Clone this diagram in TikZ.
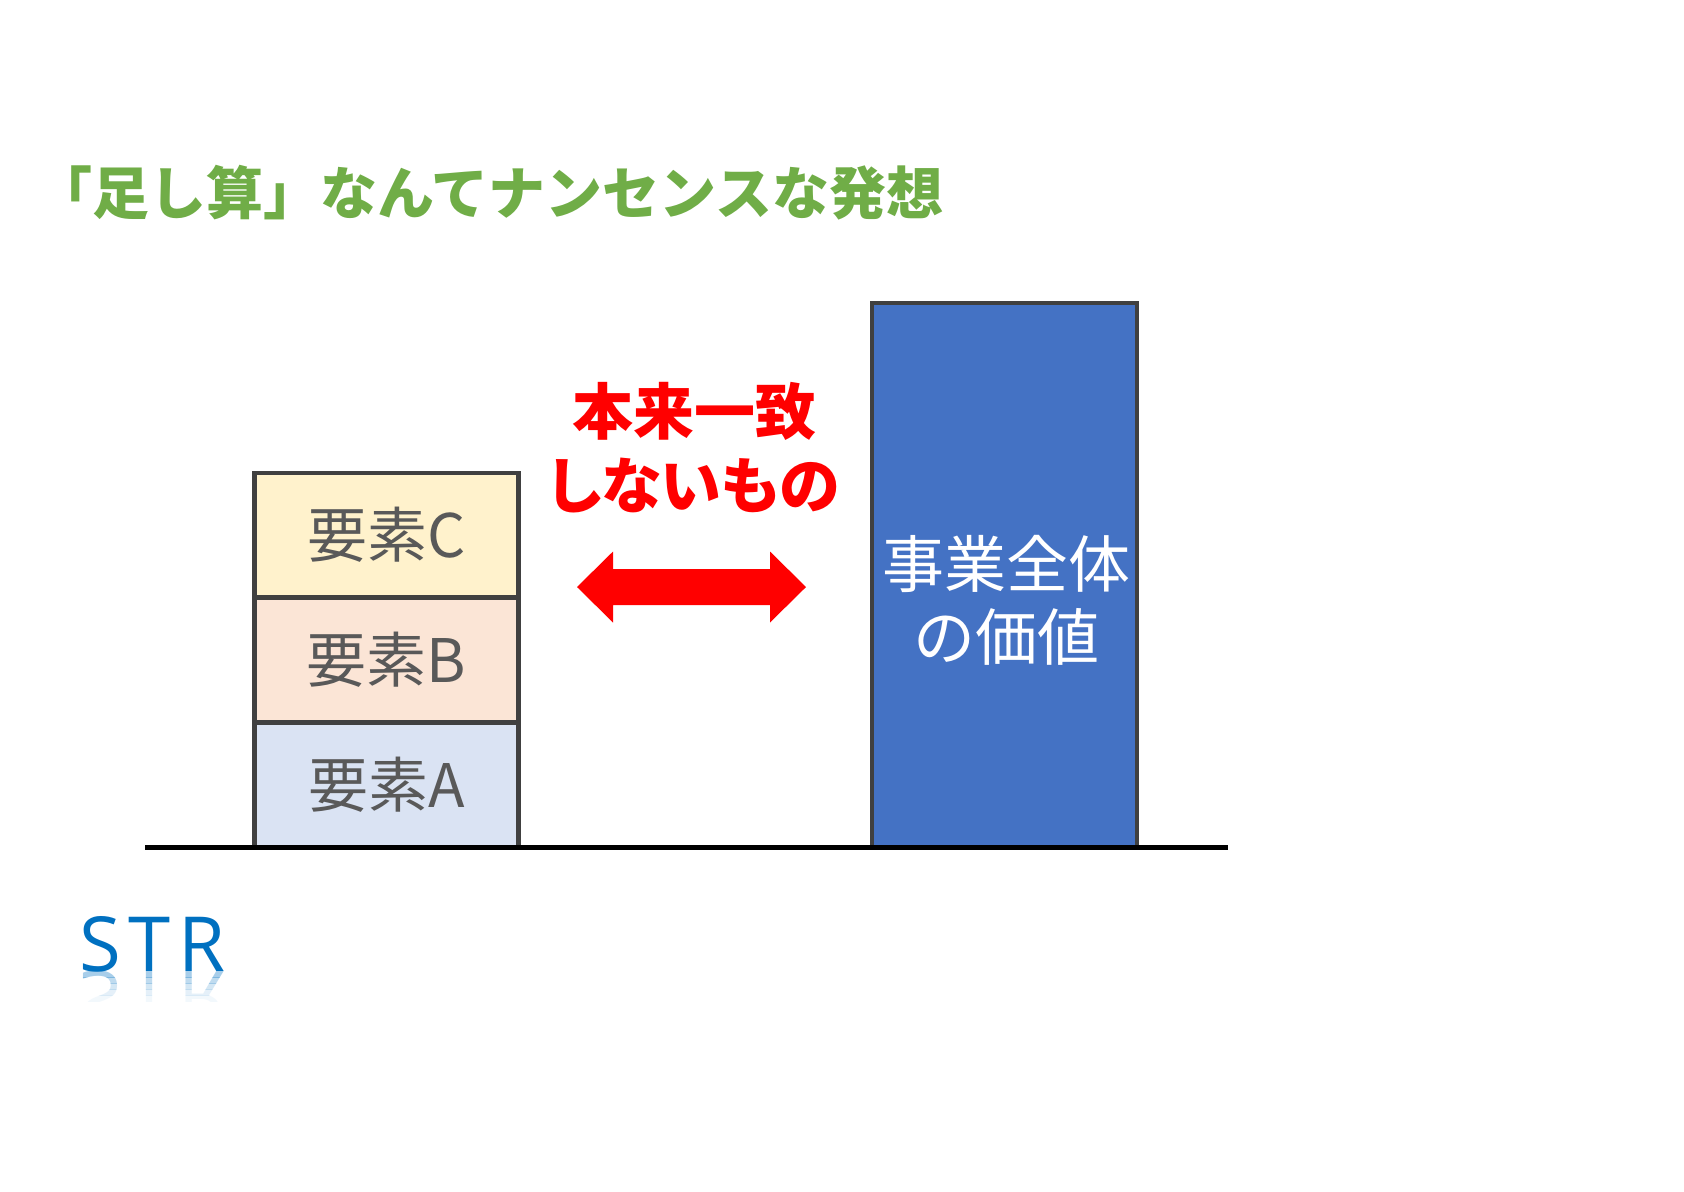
\documentclass[tikz,border=0pt]{standalone}
\usepackage{fontspec}
\newfontfamily\jp{Noto Sans CJK JP}
\newfontfamily\jpp{Noto Sans CJK JP}[RawFeature=+palt]
\newfontfamily\strfont{Open Sans}[LetterSpace=10]
\definecolor{titlegreen}{HTML}{70AD47}
\definecolor{edgegray}{HTML}{404040}
\definecolor{labelgray}{HTML}{595959}
\definecolor{fillC}{HTML}{FFF2CC}
\definecolor{fillB}{HTML}{FBE5D6}
\definecolor{fillA}{HTML}{DAE3F3}
\definecolor{bluebar}{HTML}{4472C4}
\definecolor{strblue}{HTML}{0070C0}
\definecolor{arrowred}{HTML}{FF0000}
\begin{document}
\begin{tikzpicture}[x=0.5pt,y=-0.5pt,
  stackbox/.style={draw=edgegray, line width=2.2pt, minimum width=132pt,
    minimum height=62.4pt, inner sep=0pt, text=labelgray,
    font=\jp\fontsize{30}{35}\selectfont},
  barbox/.style={draw=edgegray, line width=2.2pt, fill=bluebar,
    minimum width=132.5pt, minimum height=272pt, inner sep=0pt},
  strtext/.style={inner sep=0pt, anchor=base west, text=strblue,
    font=\strfont\fontsize{38}{44}\selectfont}]
\useasboundingbox (0,0) rectangle (1684,1191);

% title
\node[anchor=west, inner sep=0pt, text=titlegreen,
  font=\jp\bfseries\fontsize{28.5}{32}\selectfont] (title) at (35,193)
  {「足し算」なんてナンセンスな発想};

% stacked elements
\node[stackbox, fill=fillC] (c) at (386.6,535.1) {要素C};
\node[stackbox, fill=fillB] (b) at (386.6,660.0) {要素B};
\node[stackbox, fill=fillA] (a) at (386.6,784.8) {要素A};

% whole business value bar
\node[barbox] (bar) at (1004.5,575) {};
\node[inner sep=0pt, text=white, align=center,
  font=\jp\fontsize{31}{36.5}\selectfont] (bartext) at (1006,600.5)
  {事業全体\\の価値};

% red label
\node[inner sep=0pt, text=arrowred, align=center,
  font=\jpp\bfseries\fontsize{30.5}{37}\selectfont] (mismatch) at (694,448)
  {本来一致\\しないもの};

% double arrow shape
\fill[arrowred] (577,587) -- (613,551.5) -- (613,569) -- (770,569)
  -- (770,551.5) -- (806,587) -- (770,622.5) -- (770,605) -- (613,605)
  -- (613,622.5) -- cycle;

% ground line
\coordinate (g1) at (145,847.5);
\coordinate (g2) at (1228,847.5);
\draw[black, line width=2.3pt] (g1) -- (g2);

% STR logo with reflection
\node[strtext] (str) at (79,971) {STR};
\foreach \k/\op in {0/0.34,1/0.25,2/0.17,3/0.10,4/0.05}{
  \begin{scope}
    \clip (70,{971+\k*6}) rectangle (260,{971+(\k+1)*6});
    \begin{scope}[shift={(79,971)}, yscale=-1]
      \node[strtext, transform shape, opacity=\op] at (0,0) {STR};
    \end{scope}
  \end{scope}
}
\end{tikzpicture}
\end{document}
